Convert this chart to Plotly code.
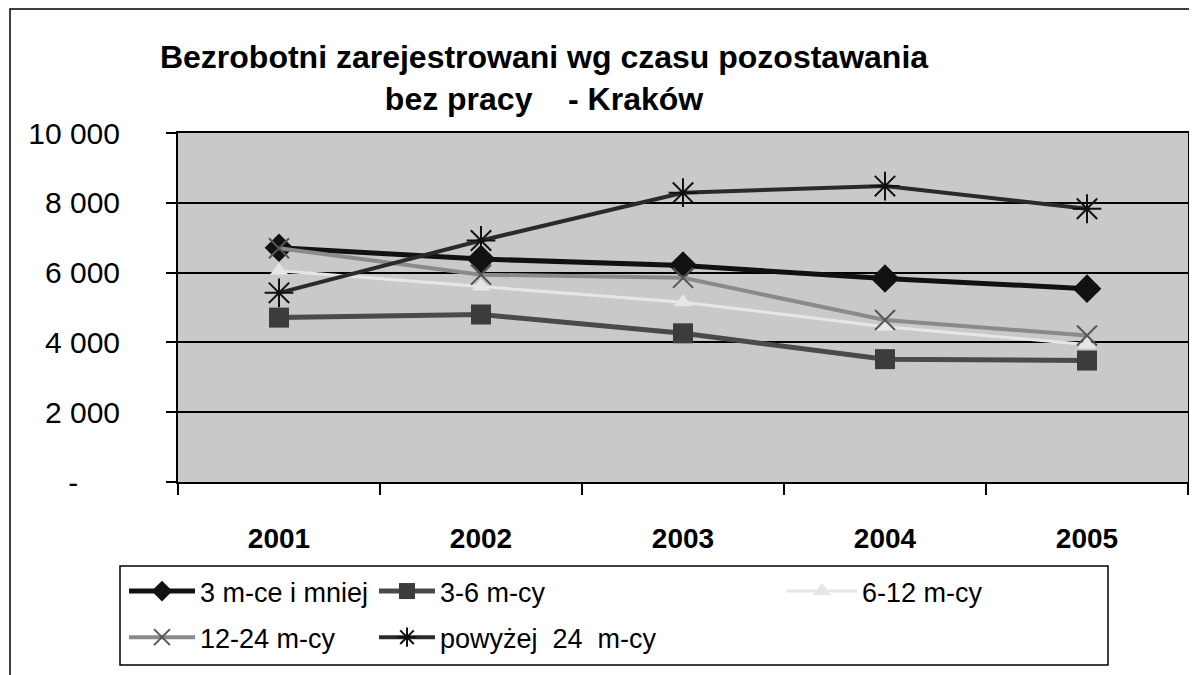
import plotly.graph_objects as go

years = ["2001", "2002", "2003", "2004", "2005"]
s_3m = [6710, 6390, 6200, 5830, 5540]
s_3_6 = [4710, 4800, 4260, 3520, 3480]
s_6_12 = [6050, 5600, 5150, 4450, 3940]
s_12_24 = [6700, 5940, 5850, 4640, 4200]
s_24 = [5420, 6920, 8290, 8480, 7830]
names = ["3 m-ce i mniej", "3-6 m-cy", "6-12 m-cy", "12-24 m-cy",
         "powyżej\u00a0\u00a024\u00a0\u00a0m-cy"]
ytick_vals = [0, 2000, 4000, 6000, 8000, 10000]
ytick_text = ["-\u00a0\u00a0\u00a0\u00a0\u00a0", "2 000", "4 000", "6 000", "8 000", "10 000"]

W, H = 1197, 675
OFF = 8  # page body margin offset
L, R, T, B = 178 - OFF, 1188 - OFF, 133 - OFF, 482 - OFF
FONT = "Liberation Sans, Arial, sans-serif"

fig = go.Figure()
fig.add_trace(go.Scatter(x=years, y=s_3m, name=names[0], mode="lines+markers",
                         line=dict(color="#111111", width=5),
                         marker=dict(symbol="diamond", size=22, color="#111111"),
                         legend="legend", legendgroup="a"))
fig.add_trace(go.Scatter(x=years, y=s_3_6, name=names[1], mode="lines+markers",
                         line=dict(color="#4a4a4a", width=5),
                         marker=dict(symbol="square", size=20, color="#3c3c3c"),
                         legend="legend2", legendgroup="b"))
fig.add_trace(go.Scatter(x=years, y=s_6_12, name=names[2], mode="lines+markers",
                         line=dict(color="#e6e6e6", width=3),
                         marker=dict(symbol="triangle-up", size=16, color="#e6e6e6"),
                         legend="legend3", legendgroup="c"))
fig.add_trace(go.Scatter(x=years, y=s_12_24, name=names[3], mode="lines+markers",
                         line=dict(color="#8a8a8a", width=4),
                         marker=dict(symbol="x-thin", size=20, color="#555555",
                                     line=dict(color="#555555", width=2)),
                         legend="legend", legendgroup="d"))
fig.add_trace(go.Scatter(x=years, y=s_24, name=names[4], mode="lines+markers",
                         line=dict(color="#2a2a2a", width=4),
                         marker=dict(symbol="asterisk-open", size=24, color="#111111",
                                     line=dict(color="#111111", width=2)),
                         legend="legend2", legendgroup="e"))

leg_common = dict(xref="container", yref="container", xanchor="left", yanchor="top",
                  bgcolor="rgba(0,0,0,0)", borderwidth=0,
                  tracegroupgap=8, font=dict(family=FONT, size=27, color="black"))

def px_x(px):
    return (px - OFF - L) / (R - L)

def px_y(py):
    return (B - (py - OFF)) / (B - T)

fig.update_layout(
    width=W, height=H,
    paper_bgcolor="white", plot_bgcolor="#c9c9c9",
    margin=dict(l=L, r=W - R, t=T, b=H - B, pad=0, autoexpand=False),
    font=dict(family=FONT, color="black"),
    title=dict(text="Bezrobotni zarejestrowani wg czasu pozostawania<br>bez pracy\u00a0\u00a0\u00a0\u00a0- Kraków",
               x=(544 - OFF) / W, xref="container", xanchor="center",
               y=1 - (68 - OFF) / H, yref="container", yanchor="middle",
               font=dict(family=FONT, size=32, color="black", weight="bold")),
    showlegend=True,
    legend=dict(x=(124 - OFF) / W, y=1 - (567 - OFF) / H, itemwidth=66, **leg_common),
    legend2=dict(x=(374 - OFF) / W, y=1 - (567 - OFF) / H, itemwidth=56, **leg_common),
    legend3=dict(x=(782 - OFF) / W, y=1 - (567 - OFF) / H, itemwidth=70, **leg_common),
    xaxis=dict(type="category", range=[-0.5, 4.5], tickson="boundaries",
               ticks="outside", ticklen=11,
               tickwidth=1.5, tickcolor="black", showline=True, linecolor="black",
               linewidth=2, mirror=True, showgrid=False, ticklabelstandoff=30,
               automargin=False, tickangle=0,
               tickfont=dict(family=FONT, size=28, color="black", weight="bold")),
    yaxis=dict(range=[0, 10000], tickvals=ytick_vals, ticktext=ytick_text,
               ticks="outside", ticklen=10, tickwidth=1.5, tickcolor="black",
               showline=True, linecolor="black", linewidth=2, mirror=True,
               showgrid=True, gridcolor="black", gridwidth=1.5, zeroline=False,
               ticklabelstandoff=40, automargin=False,
               tickfont=dict(family=FONT, size=30, color="black")),
    shapes=[
        dict(type="rect", xref="paper", yref="paper",
             x0=px_x(10), x1=px_x(1215), y0=px_y(700), y1=px_y(9),
             line=dict(color="black", width=1.5), fillcolor="rgba(0,0,0,0)", layer="below"),
        dict(type="rect", xref="paper", yref="paper",
             x0=px_x(120), x1=px_x(1108), y0=px_y(665), y1=px_y(566),
             line=dict(color="black", width=1.5), fillcolor="rgba(0,0,0,0)"),
    ],
)

fig.write_html("out.html")
